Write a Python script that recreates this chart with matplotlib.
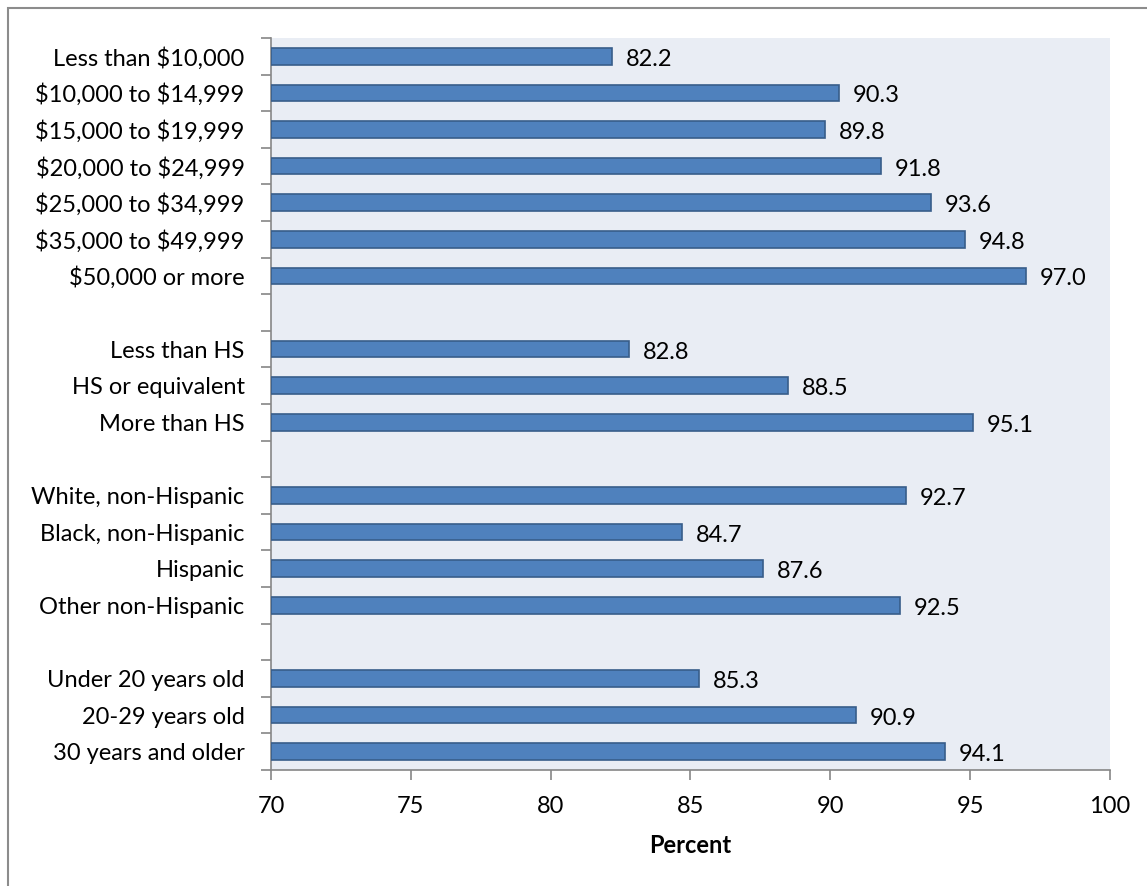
import numpy as np
import matplotlib.pyplot as plt
from matplotlib.patches import Rectangle

plt.rcParams['font.family'] = ['Lato', 'DejaVu Sans']
plt.rcParams['text.parse_math'] = False  # les "$" restent du texte

# groupes de catégories et valeurs (%)
income = ["Less than $10,000", "$10,000 to $14,999", "$15,000 to $19,999",
          "$20,000 to $24,999", "$25,000 to $34,999", "$35,000 to $49,999",
          "$50,000 or more"]
income_vals = [82.2, 90.3, 89.8, 91.8, 93.6, 94.8, 97.0]

education = ["Less than HS", "HS or equivalent", "More than HS"]
education_vals = [82.8, 88.5, 95.1]

race = ["White, non-Hispanic", "Black, non-Hispanic", "Hispanic",
        "Other non-Hispanic"]
race_vals = [92.7, 84.7, 87.6, 92.5]

age = ["Under 20 years old", "20-29 years old", "30 years and older"]
age_vals = [85.3, 90.9, 94.1]

groups = [(income, income_vals), (education, education_vals),
          (race, race_vals), (age, age_vals)]

# une ligne vide entre chaque groupe
labels, values = [], []
for i, (cats, vals) in enumerate(groups):
    if i > 0:
        labels.append("")
        values.append(np.nan)
    labels += cats
    values += vals
y = np.arange(len(labels))

fs = 17

fig = plt.figure(figsize=(11.47, 8.86), dpi=100)
ax = fig.add_axes([271/1147, 1 - 770/886, (1110 - 271)/1147, (770 - 38)/886])

xmin = 70
mask = ~np.isnan(values)
vals = np.array(values)[mask]
ax.barh(y[mask], vals - xmin, left=xmin, height=0.45,
        color="#4F81BD", edgecolor="#385D8A", linewidth=1.2, zorder=3)
for yy, v in zip(y[mask], vals):
    ax.text(v + 0.5, yy + 0.03, f"{v:.1f}", va="center_baseline", ha="left",
            fontsize=fs, color="black", zorder=4)

ax.set_xlim(70, 100)
ax.set_ylim(len(labels) - 0.5, -0.5)
ax.set_facecolor("#E9EDF4")

ax.set_yticks(y)
ax.set_yticklabels(labels, fontsize=fs)
ax.set_yticks(np.arange(-0.5, len(labels), 1.0), minor=True)
ax.tick_params(axis="y", which="major", length=0, pad=19)
ax.tick_params(axis="y", which="minor", length=7, width=1.2, color="#868686")

ax.set_xticks(np.arange(70, 101, 5))
ax.tick_params(axis="x", length=7, width=1.2, color="#868686",
               labelsize=fs, pad=12)
ax.set_xlabel("Percent", fontsize=fs, fontweight="bold", labelpad=12)

for side in ["top", "right"]:
    ax.spines[side].set_visible(False)
for side in ["left", "bottom"]:
    ax.spines[side].set_color("#868686")
    ax.spines[side].set_linewidth(1.2)

# cadre extérieur du graphique
fig.patches.append(Rectangle((8/1147, -0.05), 1.2, 1.05 - 8/886,
                             transform=fig.transFigure, fill=False,
                             edgecolor="#8C8C8C", linewidth=1.5))

fig.savefig("out.png", dpi=100)
